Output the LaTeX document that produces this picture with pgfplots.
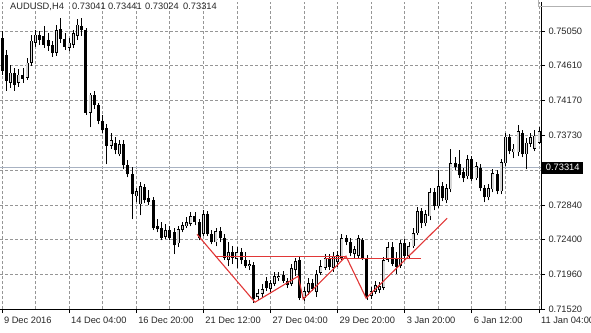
\documentclass[border=0pt]{standalone}
\usepackage{pgfplots}
\pgfplotsset{compat=1.18}
\usepackage{pgfplotstable}
\usepackage{fontspec}
\setmainfont{Liberation Sans}

\definecolor{gridgray}{RGB}{150,150,150}
\definecolor{pricegray}{RGB}{168,178,194}
\definecolor{bullfill}{RGB}{215,215,215}
\definecolor{trend}{RGB}{225,55,55}
\newcommand{\tickfont}{\fontsize{9.3bp}{11bp}\selectfont}
\tikzset{gridline/.style={gridgray, line width=0.8bp, dash pattern=on 3bp off 2bp}}

\pgfplotstableread{
i o h l c
0 0.74964 0.75053 0.74496 0.74546
1 0.74749 0.74812 0.74293 0.74420
2 0.74394 0.74622 0.74331 0.74521
3 0.74521 0.74584 0.74293 0.74369
4 0.74394 0.74571 0.74343 0.74496
5 0.74496 0.74584 0.74394 0.74445
6 0.74458 0.74711 0.74432 0.74647
7 0.74647 0.75002 0.74609 0.74926
8 0.74901 0.75065 0.74850 0.75002
9 0.75002 0.75053 0.74876 0.74938
10 0.74989 0.75116 0.74838 0.74876
11 0.74938 0.75027 0.74800 0.74863
12 0.74876 0.74926 0.74723 0.74774
13 0.74774 0.75129 0.74736 0.75065
14 0.75078 0.75217 0.74901 0.74951
15 0.74951 0.75027 0.74812 0.74850
16 0.74838 0.74964 0.74800 0.74901
17 0.74876 0.75065 0.74838 0.75027
18 0.74989 0.75204 0.74938 0.75129
19 0.75116 0.75217 0.74989 0.75065
20 0.75065 0.75091 0.73989 0.74014
21 0.74014 0.74267 0.73825 0.74242
22 0.74242 0.74293 0.74065 0.74116
23 0.74116 0.74141 0.73863 0.73913
24 0.73913 0.73989 0.73761 0.73787
25 0.73812 0.73863 0.73356 0.73596
26 0.73596 0.73761 0.73558 0.73660
27 0.73634 0.73698 0.73483 0.73533
28 0.73483 0.73660 0.73457 0.73609
29 0.73609 0.73660 0.73292 0.73343
30 0.73343 0.73407 0.73192 0.73230
31 0.73230 0.73318 0.72659 0.72976
32 0.72950 0.73052 0.72875 0.73014
33 0.72850 0.73128 0.72710 0.73077
34 0.73065 0.73103 0.72862 0.72900
35 0.72925 0.73027 0.72837 0.72875
36 0.72900 0.72938 0.72521 0.72546
37 0.72571 0.72659 0.72495 0.72533
38 0.72546 0.72622 0.72394 0.72419
39 0.72432 0.72597 0.72406 0.72521
40 0.72521 0.72571 0.72394 0.72419
41 0.72495 0.72546 0.72217 0.72330
42 0.72355 0.72571 0.72305 0.72533
43 0.72521 0.72622 0.72495 0.72584
44 0.72571 0.72685 0.72546 0.72622
45 0.72597 0.72748 0.72571 0.72697
46 0.72697 0.72748 0.72584 0.72622
47 0.72622 0.72659 0.72394 0.72419
48 0.72470 0.72774 0.72444 0.72723
49 0.72723 0.72761 0.72444 0.72470
50 0.72470 0.72521 0.72343 0.72368
51 0.72368 0.72546 0.72317 0.72508
52 0.72508 0.72559 0.72368 0.72419
53 0.72419 0.72470 0.72141 0.72166
54 0.72141 0.72368 0.72064 0.72242
55 0.72242 0.72317 0.72090 0.72166
56 0.72153 0.72305 0.72039 0.72242
57 0.72242 0.72292 0.72090 0.72141
58 0.72141 0.72242 0.72039 0.72064
59 0.72064 0.72141 0.72014 0.72090
60 0.72077 0.72115 0.71596 0.71646
61 0.71672 0.71773 0.71634 0.71722
62 0.71710 0.71837 0.71659 0.71773
63 0.71875 0.71926 0.71748 0.71786
64 0.71773 0.71888 0.71735 0.71849
65 0.71837 0.71989 0.71811 0.71938
66 0.71913 0.71989 0.71875 0.71938
67 0.71951 0.72001 0.71849 0.71875
68 0.71875 0.71913 0.71786 0.71824
69 0.71837 0.72090 0.71811 0.72039
70 0.72014 0.72166 0.71938 0.72128
71 0.72141 0.72191 0.71634 0.71659
72 0.71659 0.71799 0.71621 0.71748
73 0.71735 0.71913 0.71697 0.71849
74 0.71849 0.71900 0.71748 0.71773
75 0.71735 0.72014 0.71672 0.71964
76 0.71976 0.72141 0.71951 0.72064
77 0.72039 0.72217 0.72014 0.72166
78 0.72166 0.72217 0.72014 0.72052
79 0.72039 0.72242 0.71989 0.72191
80 0.72115 0.72255 0.72052 0.72204
81 0.72166 0.72470 0.72141 0.72419
82 0.72419 0.72457 0.72330 0.72368
83 0.72368 0.72419 0.72191 0.72229
84 0.72217 0.72317 0.72166 0.72279
85 0.72191 0.72457 0.72166 0.72419
86 0.72394 0.72419 0.72141 0.72166
87 0.72166 0.72204 0.71634 0.71672
88 0.71684 0.71799 0.71646 0.71748
89 0.71735 0.71875 0.71710 0.71824
90 0.71760 0.71862 0.71722 0.71811
91 0.71786 0.72179 0.71760 0.72141
92 0.72141 0.72368 0.72115 0.72305
93 0.72305 0.72368 0.72064 0.72090
94 0.72166 0.72242 0.71964 0.72052
95 0.72064 0.72394 0.72039 0.72355
96 0.72355 0.72406 0.72141 0.72191
97 0.72191 0.72368 0.72153 0.72317
98 0.72317 0.72546 0.72292 0.72482
99 0.72482 0.72812 0.72457 0.72761
100 0.72761 0.72799 0.72546 0.72609
101 0.72609 0.72774 0.72571 0.72723
102 0.72697 0.73052 0.72647 0.73001
103 0.73001 0.73052 0.72774 0.72824
104 0.72824 0.73280 0.72799 0.73077
105 0.73077 0.73128 0.72887 0.72925
106 0.72900 0.73103 0.72862 0.73052
107 0.73039 0.73546 0.73001 0.73368
108 0.73368 0.73445 0.73280 0.73318
109 0.73356 0.73533 0.73179 0.73217
110 0.73255 0.73305 0.73128 0.73179
111 0.73204 0.73470 0.73166 0.73419
112 0.73419 0.73457 0.73141 0.73166
113 0.73179 0.73381 0.73153 0.73330
114 0.73305 0.73356 0.73014 0.73052
115 0.73052 0.73090 0.72875 0.72938
116 0.72938 0.73103 0.72900 0.73052
117 0.73039 0.73292 0.73001 0.73242
118 0.73230 0.73280 0.72976 0.73014
119 0.73014 0.73419 0.72976 0.73381
120 0.73368 0.73761 0.73330 0.73710
121 0.73710 0.73748 0.73483 0.73521
122 0.73508 0.73609 0.73432 0.73558
123 0.73508 0.73850 0.73457 0.73774
124 0.73761 0.73799 0.73445 0.73483
125 0.73483 0.73685 0.73292 0.73634
126 0.73621 0.73761 0.73583 0.73698
127 0.73558 0.73787 0.73521 0.73723
128 0.73634 0.73825 0.73609 0.73774
}\candles

\begin{document}
\begin{tikzpicture}[x=1bp,y=1bp]
\useasboundingbox (0,0) rectangle (591,332);
\begin{axis}[
  at={(0,29)}, anchor=south west,
  width=541bp, height=307bp, scale only axis,
  xmin=-0.477, xmax=128.48, ymin=0.7152, ymax=0.75415,
  clip=false,
  axis line style={draw=none},
  xtick={0,16,...,128},
  xticklabels={9 Dec 2016,14 Dec 04:00,16 Dec 20:00,21 Dec 12:00,27 Dec 04:00,29 Dec 20:00,3 Jan 20:00,6 Jan 12:00,11 Jan 04:00},
  ytick={0.7152,0.7196,0.7240,0.7284,0.73285,0.7373,0.7417,0.7461,0.7505},
  yticklabels={0.71520,0.71960,0.72400,0.72840,,0.73730,0.74170,0.74610,0.75050},
  xtick pos=left, ytick pos=right, yticklabel pos=right,
  tick align=outside, major tick length=4bp,
  tick style={black, line width=0.8bp},
  xticklabel style={anchor=north west, xshift=-1.5bp, font=\tickfont, text=black!85},
  yticklabel style={anchor=west, font=\tickfont, text=black!85},
]
% grid
\pgfplotsinvokeforeach{0,8,16,24,32,40,48,56,64,72,80,88,96,104,112,120,128}{
  \draw[gridline] (axis cs:#1,0.7152) -- (axis cs:#1,0.75415);
}
\pgfplotsinvokeforeach{0.7196,0.7240,0.7284,0.73285,0.7373,0.7417,0.7461,0.7505}{
  \draw[gridline] (axis cs:-0.477,#1) -- (axis cs:128.48,#1);
}
% current price line
\addplot[forget plot, line width=1.3bp, pricegray] coordinates {(-0.477,0.73314) (128.48,0.73314)};
% wicks
\addplot[forget plot, draw=none, mark=none,
  error bars/.cd, y dir=plus, y explicit, error mark=none,
  error bar style={draw=black, solid, line width=0.8bp}]
  table[x=i, y=l, y error plus expr={\thisrow{h}-\thisrow{l}}] {\candles};
% bodies (outline / bear fill)
\addplot[forget plot, draw=none, mark=none,
  error bars/.cd, y dir=plus, y explicit, error mark=none,
  error bar style={draw=black, solid, line width=3bp, line cap=butt}]
  table[x=i, y expr={min(\thisrow{o},\thisrow{c})},
        y error plus expr={max(abs(\thisrow{c}-\thisrow{o}),0.00006)}] {\candles};
% bull interiors
\addplot[forget plot, draw=none, mark=none,
  error bars/.cd, y dir=plus, y explicit, error mark=none,
  error bar style={draw=bullfill, solid, line width=1.5bp, line cap=butt}]
  table[x=i, y expr={min(\thisrow{o},\thisrow{c})+0.0001},
        y error plus expr={max(\thisrow{c}-\thisrow{o}-0.0002,0)}] {\candles};
% drawn pattern lines
\addplot[forget plot, trend, line width=1.1bp] coordinates {
  (46.5,0.72469) (60.3,0.71608) (70.6,0.71938) (71.8,0.71646)
  (82.0,0.72191) (86.8,0.71659) (106.1,0.72672)};
\addplot[forget plot, trend, line width=1.1bp] coordinates {(50.8,0.72191) (81.8,0.72191)};
\addplot[forget plot, trend, line width=1.1bp] coordinates {(77.0,0.72166) (99.9,0.72166)};
% axis lines
\draw[black, line width=0.8bp] (rel axis cs:0,0) -- (rel axis cs:1,0) -- (rel axis cs:1,1);
% current price label
\node[fill=black, text=white, anchor=west, inner xsep=3.5bp, inner ysep=2.8bp, font=\tickfont, xshift=1.2bp]
  at (axis cs:128.48,0.73314) {0.73314};
\end{axis}
% title
\begin{scope}[every node/.style={anchor=base west, inner sep=0pt, font=\tickfont, text=black!85}]
\node at (10,322.5) {AUDUSD,H4};
\node at (72,322.5) {0.73041};
\node at (108,322.5) {0.73441};
\node at (145,322.5) {0.73024};
\node at (183,322.5) {0.73314};
\end{scope}
\draw[gray!60, line width=0.8bp] (538,333) -- (538,326) -- (592,326);
\end{tikzpicture}
\end{document}
